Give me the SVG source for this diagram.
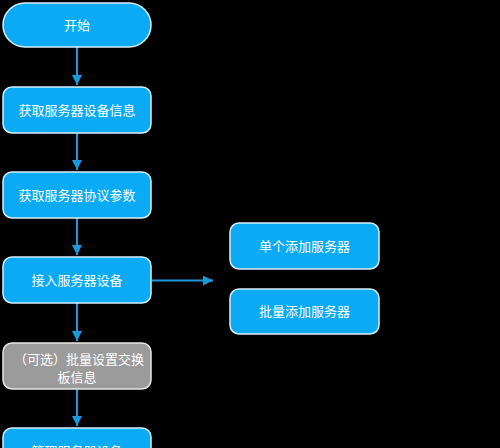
<svg xmlns="http://www.w3.org/2000/svg" width="500" height="448" viewBox="0 0 500 448">
<style>
.n{fill:#0aaaf5;stroke:#d6efff;stroke-width:1.5}
.g{fill:#9b9b9b;stroke:#e6e6e6;stroke-width:1.5}
.t{font-family:"Noto Sans CJK SC","Liberation Sans",sans-serif;font-size:13px;fill:#ffffff;text-anchor:middle}
.c{stroke:#1a98db;stroke-width:2;fill:none}
</style>
<defs>
<marker id="a" viewBox="0 0 10 10" refX="10" refY="5" markerWidth="5" markerHeight="5" orient="auto" markerUnits="strokeWidth">
<path d="M0,0 L10,5 L0,10 z" fill="#1a98db"/>
</marker>
</defs>
<rect width="500" height="448" fill="#000000"/>
<g id="connectors">
<line class="c" x1="77" y1="47" x2="77" y2="85" marker-end="url(#a)"/>
<line class="c" x1="77" y1="133" x2="77" y2="170" marker-end="url(#a)"/>
<line class="c" x1="77" y1="218" x2="77" y2="255" marker-end="url(#a)"/>
<line class="c" x1="77" y1="303" x2="77" y2="341" marker-end="url(#a)"/>
<line class="c" x1="77" y1="389" x2="77" y2="426" marker-end="url(#a)"/>
<line class="c" x1="152" y1="280.5" x2="213" y2="280.5" marker-end="url(#a)"/>
</g>
<g id="start">
<rect class="n" x="3" y="3" width="148" height="44" rx="22" ry="22"/>
<text class="t" x="77" y="29.5">开始</text>
</g>
<g id="getInfo">
<rect class="n" x="3" y="87" width="148" height="46" rx="9" ry="9"/>
<text class="t" x="77" y="114.5">获取服务器设备信息</text>
</g>
<g id="getProto">
<rect class="n" x="3" y="172" width="148" height="46" rx="9" ry="9"/>
<text class="t" x="77" y="199.5">获取服务器协议参数</text>
</g>
<g id="access">
<rect class="n" x="3" y="257" width="148" height="46" rx="9" ry="9"/>
<text class="t" x="77" y="285">接入服务器设备</text>
</g>
<g id="optional">
<rect class="g" x="3" y="343" width="148" height="46" rx="9" ry="9"/>
<text class="t"><tspan x="79" y="363.5">（可选）批量设置交换</tspan><tspan x="77" y="381.5">板信息</tspan></text>
</g>
<g id="manage">
<rect class="n" x="3" y="428" width="148" height="46" rx="9" ry="9"/>
<text class="t" x="77" y="456">管理服务器设备</text>
</g>
<g id="single">
<rect class="n" x="230" y="223" width="149" height="46" rx="9" ry="9"/>
<text class="t" x="304.5" y="250.5">单个添加服务器</text>
</g>
<g id="batch">
<rect class="n" x="230" y="289" width="149" height="45" rx="9" ry="9"/>
<text class="t" x="304.5" y="316">批量添加服务器</text>
</g>
</svg>
